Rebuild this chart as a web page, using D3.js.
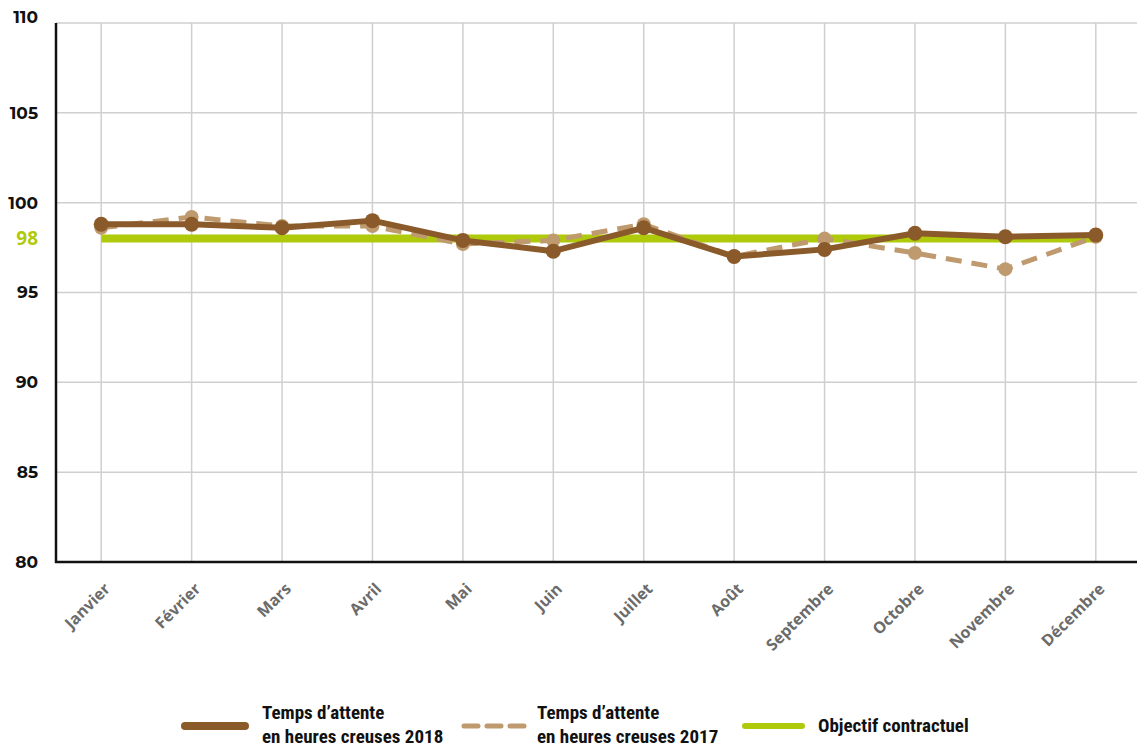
<!DOCTYPE html>
<html><head><meta charset="utf-8">
<script src="https://cdn.jsdelivr.net/npm/d3@7"></script>
<style>body{margin:0;background:#fff}svg{display:block}</style>
</head><body>
<svg id="c" width="1137" height="749"></svg>
<script>
const months = ["Janvier","Février","Mars","Avril","Mai","Juin","Juillet","Août","Septembre","Octobre","Novembre","Décembre"];
const values2018 = [98.8,98.8,98.6,99.0,97.9,97.3,98.6,97.0,97.4,98.3,98.1,98.2];
const values2017 = [98.6,99.2,98.7,98.7,97.7,97.9,98.8,97.0,98.0,97.2,96.3,98.1];
const objective = 98;
const yTicks = [80,85,90,95,100,105,110];
const legendLabels = [["Temps d’attente","en heures creuses 2018"],["Temps d’attente","en heures creuses 2017"],["Objectif contractuel"]];

const C18="#8B5A2B", C17="#BE9A6E", CG="#AFCA0B";
const svg=d3.select("#c");
const L=56, T=23, B=562, R=1141;
const x=d3.scalePoint().domain(months).range([L,R]).padding(0.5);
const y=d3.scaleLinear().domain([80,110]).range([B,T]);

// grid
const g=svg.append("g");
g.selectAll(".h").data(yTicks.filter(d=>d>80)).join("line")
 .attr("x1",L).attr("x2",1137).attr("y1",d=>y(d)).attr("y2",d=>y(d))
 .attr("stroke","#cfcfcf").attr("stroke-width",1.5);
g.selectAll(".v").data(months).join("line")
 .attr("x1",d=>x(d)).attr("x2",d=>x(d)).attr("y1",T).attr("y2",B)
 .attr("stroke","#cfcfcf").attr("stroke-width",1.5);

// axes lines
svg.append("line").attr("x1",L).attr("x2",L).attr("y1",T).attr("y2",B+1).attr("stroke","#111").attr("stroke-width",2.5);
svg.append("line").attr("x1",L-1).attr("x2",1137).attr("y1",B).attr("y2",B).attr("stroke","#111").attr("stroke-width",2.5);

// y labels
svg.selectAll(".yl").data(yTicks).join("text")
 .attr("x",38).attr("y",d=>y(d)).attr("dy","0.35em").attr("text-anchor","end")
 .attr("font-family","Montserrat, 'Open Sans', sans-serif").attr("font-weight","bold").attr("font-size",17).attr("fill","#111")
 .attr("transform",d=>d===110?"translate(0,-6)":null)
 .text(d=>d);
svg.append("text").attr("x",38).attr("y",y(objective)).attr("dy","0.35em").attr("text-anchor","end")
 .attr("font-family","'Open Sans', sans-serif").attr("font-weight","bold").attr("font-size",19).attr("fill",CG).text(objective);

// x labels
svg.selectAll(".xl").data(months).join("text")
 .attr("transform",d=>`translate(${x(d)+6},${B+24}) rotate(-45)`)
 .attr("text-anchor","end").attr("dy","0.35em")
 .attr("font-family","'Open Sans', sans-serif").attr("font-weight","bold").attr("font-size",16).attr("fill","#6b6b6b")
 .text(d=>d);

// objective line
svg.append("line").attr("x1",x(months[0])).attr("x2",x(months[11])).attr("y1",y(objective)).attr("y2",y(objective))
 .attr("stroke",CG).attr("stroke-width",8);

const line=d3.line().x((d,i)=>x(months[i])).y(d=>y(d));
// 2017 dashed
svg.append("path").datum(values2017).attr("d",line).attr("fill","none").attr("stroke",C17)
 .attr("stroke-width",5).attr("stroke-dasharray","16,10");
svg.selectAll(".p17").data(values2017).join("circle").attr("cx",(d,i)=>x(months[i])).attr("cy",d=>y(d)).attr("r",7).attr("fill",C17);
// 2018
svg.append("path").datum(values2018).attr("d",line).attr("fill","none").attr("stroke",C18).attr("stroke-width",6).attr("stroke-linejoin","round");
svg.selectAll(".p18").data(values2018).join("circle").attr("cx",(d,i)=>x(months[i])).attr("cy",d=>y(d)).attr("r",7.5).attr("fill",C18);

// legend
const lf="'Liberation Sans Narrow', 'Roboto Condensed', 'Open Sans', sans-serif";
const leg=[{x1:185,x2:245,tx:262,c:C18,dash:null},{x1:464,x2:526,tx:537,c:C17,dash:"14,9"},{x1:745,x2:802,tx:818,c:CG,dash:null}];
leg.forEach((l,i)=>{
  svg.append("line").attr("x1",l.x1).attr("x2",l.x2).attr("y1",726).attr("y2",726).attr("stroke",l.c)
   .attr("stroke-width",i===0?8:(i===1?5:6)).attr("stroke-linecap","round").attr("stroke-dasharray",l.dash);
  const lines=legendLabels[i];
  const t=svg.append("text").attr("x",l.tx).attr("font-family",lf).attr("font-weight","bold").attr("font-size",19).attr("fill","#111");
  if(lines.length===2){
    t.append("tspan").attr("x",l.tx).attr("y",719).text(lines[0]);
    t.append("tspan").attr("x",l.tx).attr("y",743).text(lines[1]);
  } else {
    t.append("tspan").attr("x",l.tx).attr("y",732).text(lines[0]);
  }
});
</script>
</body></html>
